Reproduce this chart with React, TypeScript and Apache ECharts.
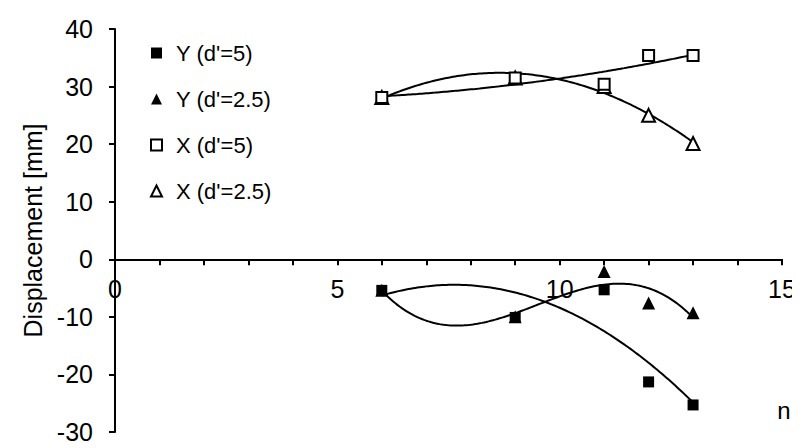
import React, { useEffect, useRef } from "react";
import * as echarts from "echarts";

// ---- data ----
const nValues = [6, 9, 11, 12, 13];
const yD5 = [-5.4, -10.1, -5.3, -21.3, -25.3];
const yD25 = [-5.4, -10.0, -2.1, -7.6, -9.3];
const xD5 = [28.1, 31.5, 30.4, 35.4, 35.4];
const xD25 = [28.1, 31.5, 30.0, 25.0, 20.1];

const seriesNames = ["Y (d'=5)", "Y (d'=2.5)", "X (d'=5)", "X (d'=2.5)"];
const trendOrders = [2, 3, 2, 2];

const FONT = "'Liberation Sans', Arial, Helvetica, sans-serif";

// least-squares polynomial fit (trend line, like a spreadsheet's polynomial trendline)
function polyfit(xs: number[], ys: number[], order: number): number[] {
  const m = order + 1;
  const A: number[][] = [];
  for (let i = 0; i < m; i++) {
    A.push(new Array(m + 1).fill(0));
  }
  for (let k = 0; k < xs.length; k++) {
    for (let i = 0; i < m; i++) {
      for (let j = 0; j < m; j++) A[i][j] += Math.pow(xs[k], i + j);
      A[i][m] += ys[k] * Math.pow(xs[k], i);
    }
  }
  for (let c = 0; c < m; c++) {
    let p = c;
    for (let r = c + 1; r < m; r++) if (Math.abs(A[r][c]) > Math.abs(A[p][c])) p = r;
    [A[c], A[p]] = [A[p], A[c]];
    for (let r = 0; r < m; r++) {
      if (r === c) continue;
      const f = A[r][c] / A[c][c];
      for (let j = c; j <= m; j++) A[r][j] -= f * A[c][j];
    }
  }
  return A.map((row, i) => row[m] / row[i]);
}

function trend(xs: number[], ys: number[], order: number): number[][] {
  const coef = polyfit(xs, ys, order);
  const lo = Math.min(...xs);
  const hi = Math.max(...xs);
  const out: number[][] = [];
  const steps = 140;
  for (let s = 0; s <= steps; s++) {
    const x = lo + ((hi - lo) * s) / steps;
    let y = 0;
    for (let i = 0; i < coef.length; i++) y += coef[i] * Math.pow(x, i);
    out.push([x, y]);
  }
  return out;
}

export default function App() {
  const ref = useRef<HTMLDivElement>(null);
  useEffect(() => {
    if (!ref.current) return;
    const chart = echarts.init(ref.current, null, { renderer: "svg" });
    const sets = [yD5, yD25, xD5, xD25];
    const symbols = ["rect", "triangle", "rect", "triangle"];
    const filled = [true, true, false, false];
    const scatter = sets.map((vals, i) => ({
      name: seriesNames[i],
      type: "scatter",
      symbol: symbols[i],
      symbolSize: symbols[i] === "rect" ? 11 : 13,
      z: symbols[i] === "rect" ? 4 : 3,
      itemStyle: filled[i]
        ? { color: "#000", borderColor: "#000", borderWidth: 0, opacity: 1 }
        : { color: "#fff", borderColor: "#000", borderWidth: 2, opacity: 1 },
      data: nValues.map((n, k) => [n, vals[k]]),
    }));
    const lines = sets.map((vals, i) => ({
      name: "trend" + i,
      type: "line",
      showSymbol: false,
      symbol: "none",
      z: 1,
      lineStyle: { color: "#000", width: 2 },
      data: trend(nValues, vals, trendOrders[i]),
    }));
    chart.setOption({
      animation: false,
      backgroundColor: "#fff",
      textStyle: { fontFamily: FONT, color: "#000" },
      grid: { left: 107, right: 26, top: 21, bottom: 24, containLabel: false },
      legend: {
        data: seriesNames,
        orient: "vertical",
        left: 137,
        top: 29,
        itemWidth: 11,
        itemHeight: 11,
        itemGap: 24,
        textStyle: { fontFamily: FONT, fontSize: 22, color: "#000", padding: [0, 0, 0, 9] },
        selectedMode: false,
      },
      xAxis: {
        type: "value",
        min: 0,
        max: 15,
        interval: 5,
        axisLine: { onZero: true, lineStyle: { color: "#000", width: 2 } },
        axisTick: { show: true, length: 6, lineStyle: { color: "#000", width: 2 } },
        minorTick: { show: true, splitNumber: 5, length: 6, lineStyle: { color: "#000", width: 2 } },
        splitLine: { show: false },
        axisLabel: { fontFamily: FONT, fontSize: 25, color: "#000", margin: -156 },
      },
      yAxis: {
        type: "value",
        min: -30,
        max: 40,
        interval: 10,
        name: "Displacement [mm]",
        nameLocation: "middle",
        nameGap: 70,
        nameTextStyle: { fontFamily: FONT, fontSize: 25, color: "#000" },
        axisLine: { lineStyle: { color: "#000", width: 2 } },
        axisTick: { show: true, length: 6, lineStyle: { color: "#000", width: 2 } },
        splitLine: { show: false },
        axisLabel: { fontFamily: FONT, fontSize: 25, color: "#000", margin: 22 },
      },
      graphic: [
        {
          type: "text",
          x: 776,
          y: 402,
          style: {
            text: "n",
            font: "24px " + FONT,
            fill: "#000",
            textAlign: "center",
            textVerticalAlign: "middle",
          },
        },
      ],
      series: [...lines, ...scatter],
    });
    return () => chart.dispose();
  }, []);
  return <div ref={ref} style={{ width: 800, height: 448 }} />;
}
